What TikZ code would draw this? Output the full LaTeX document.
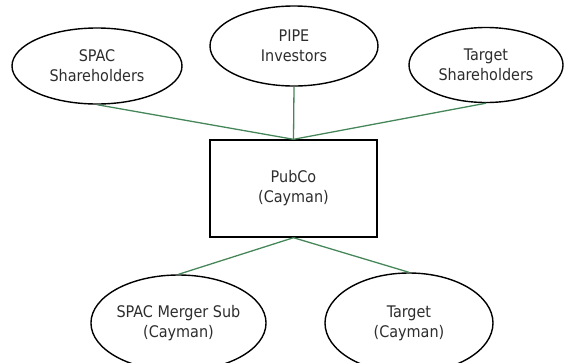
\documentclass[tikz,border=0pt]{standalone}
\usepackage{fontspec}
\setmainfont{DejaVu Sans Condensed}
\usetikzlibrary{shapes.geometric}
\definecolor{linkgreen}{RGB}{70,135,90}
\definecolor{labelgray}{RGB}{45,45,45}
\begin{document}
\begin{tikzpicture}[x=1pt,y=-1pt,
  entity/.style={ellipse,draw=black,line width=1.4pt,inner sep=0pt,align=center,
    text=labelgray,font=\fontsize{16}{20}\selectfont},
  company/.style={rectangle,draw=black,line width=1.4pt,inner sep=0pt,align=center,
    text=labelgray,font=\fontsize{16}{20}\selectfont},
  link/.style={draw=linkgreen,line width=1.3pt}]
\useasboundingbox (0,0) rectangle (565,362);
\node[entity,minimum width=170pt,minimum height=76pt] (spac) at (97,66) {SPAC\\Shareholders};
\node[entity,minimum width=168pt,minimum height=80pt] (pipe) at (294,46) {PIPE\\Investors};
\node[entity,minimum width=154pt,minimum height=75pt] (tsh) at (486,65) {Target\\Shareholders};
\node[company,minimum width=167pt,minimum height=97pt] (pubco) at (293.5,188.5) {PubCo\\(Cayman)};
\node[entity,minimum width=167pt,minimum height=96pt] (msub) at (178.5,323) {SPAC Merger Sub\\(Cayman)};
\node[entity,minimum width=168pt,minimum height=100pt] (tgt) at (409,323) {Target\\(Cayman)};
\draw[link] (spac.south) -- (pubco.north);
\draw[link] (pipe.south) -- (pubco.north);
\draw[link] (tsh.south) -- (pubco.north);
\draw[link] (pubco.south) -- (msub.north);
\draw[link] (pubco.south) -- (tgt.north);
\end{tikzpicture}
\end{document}
